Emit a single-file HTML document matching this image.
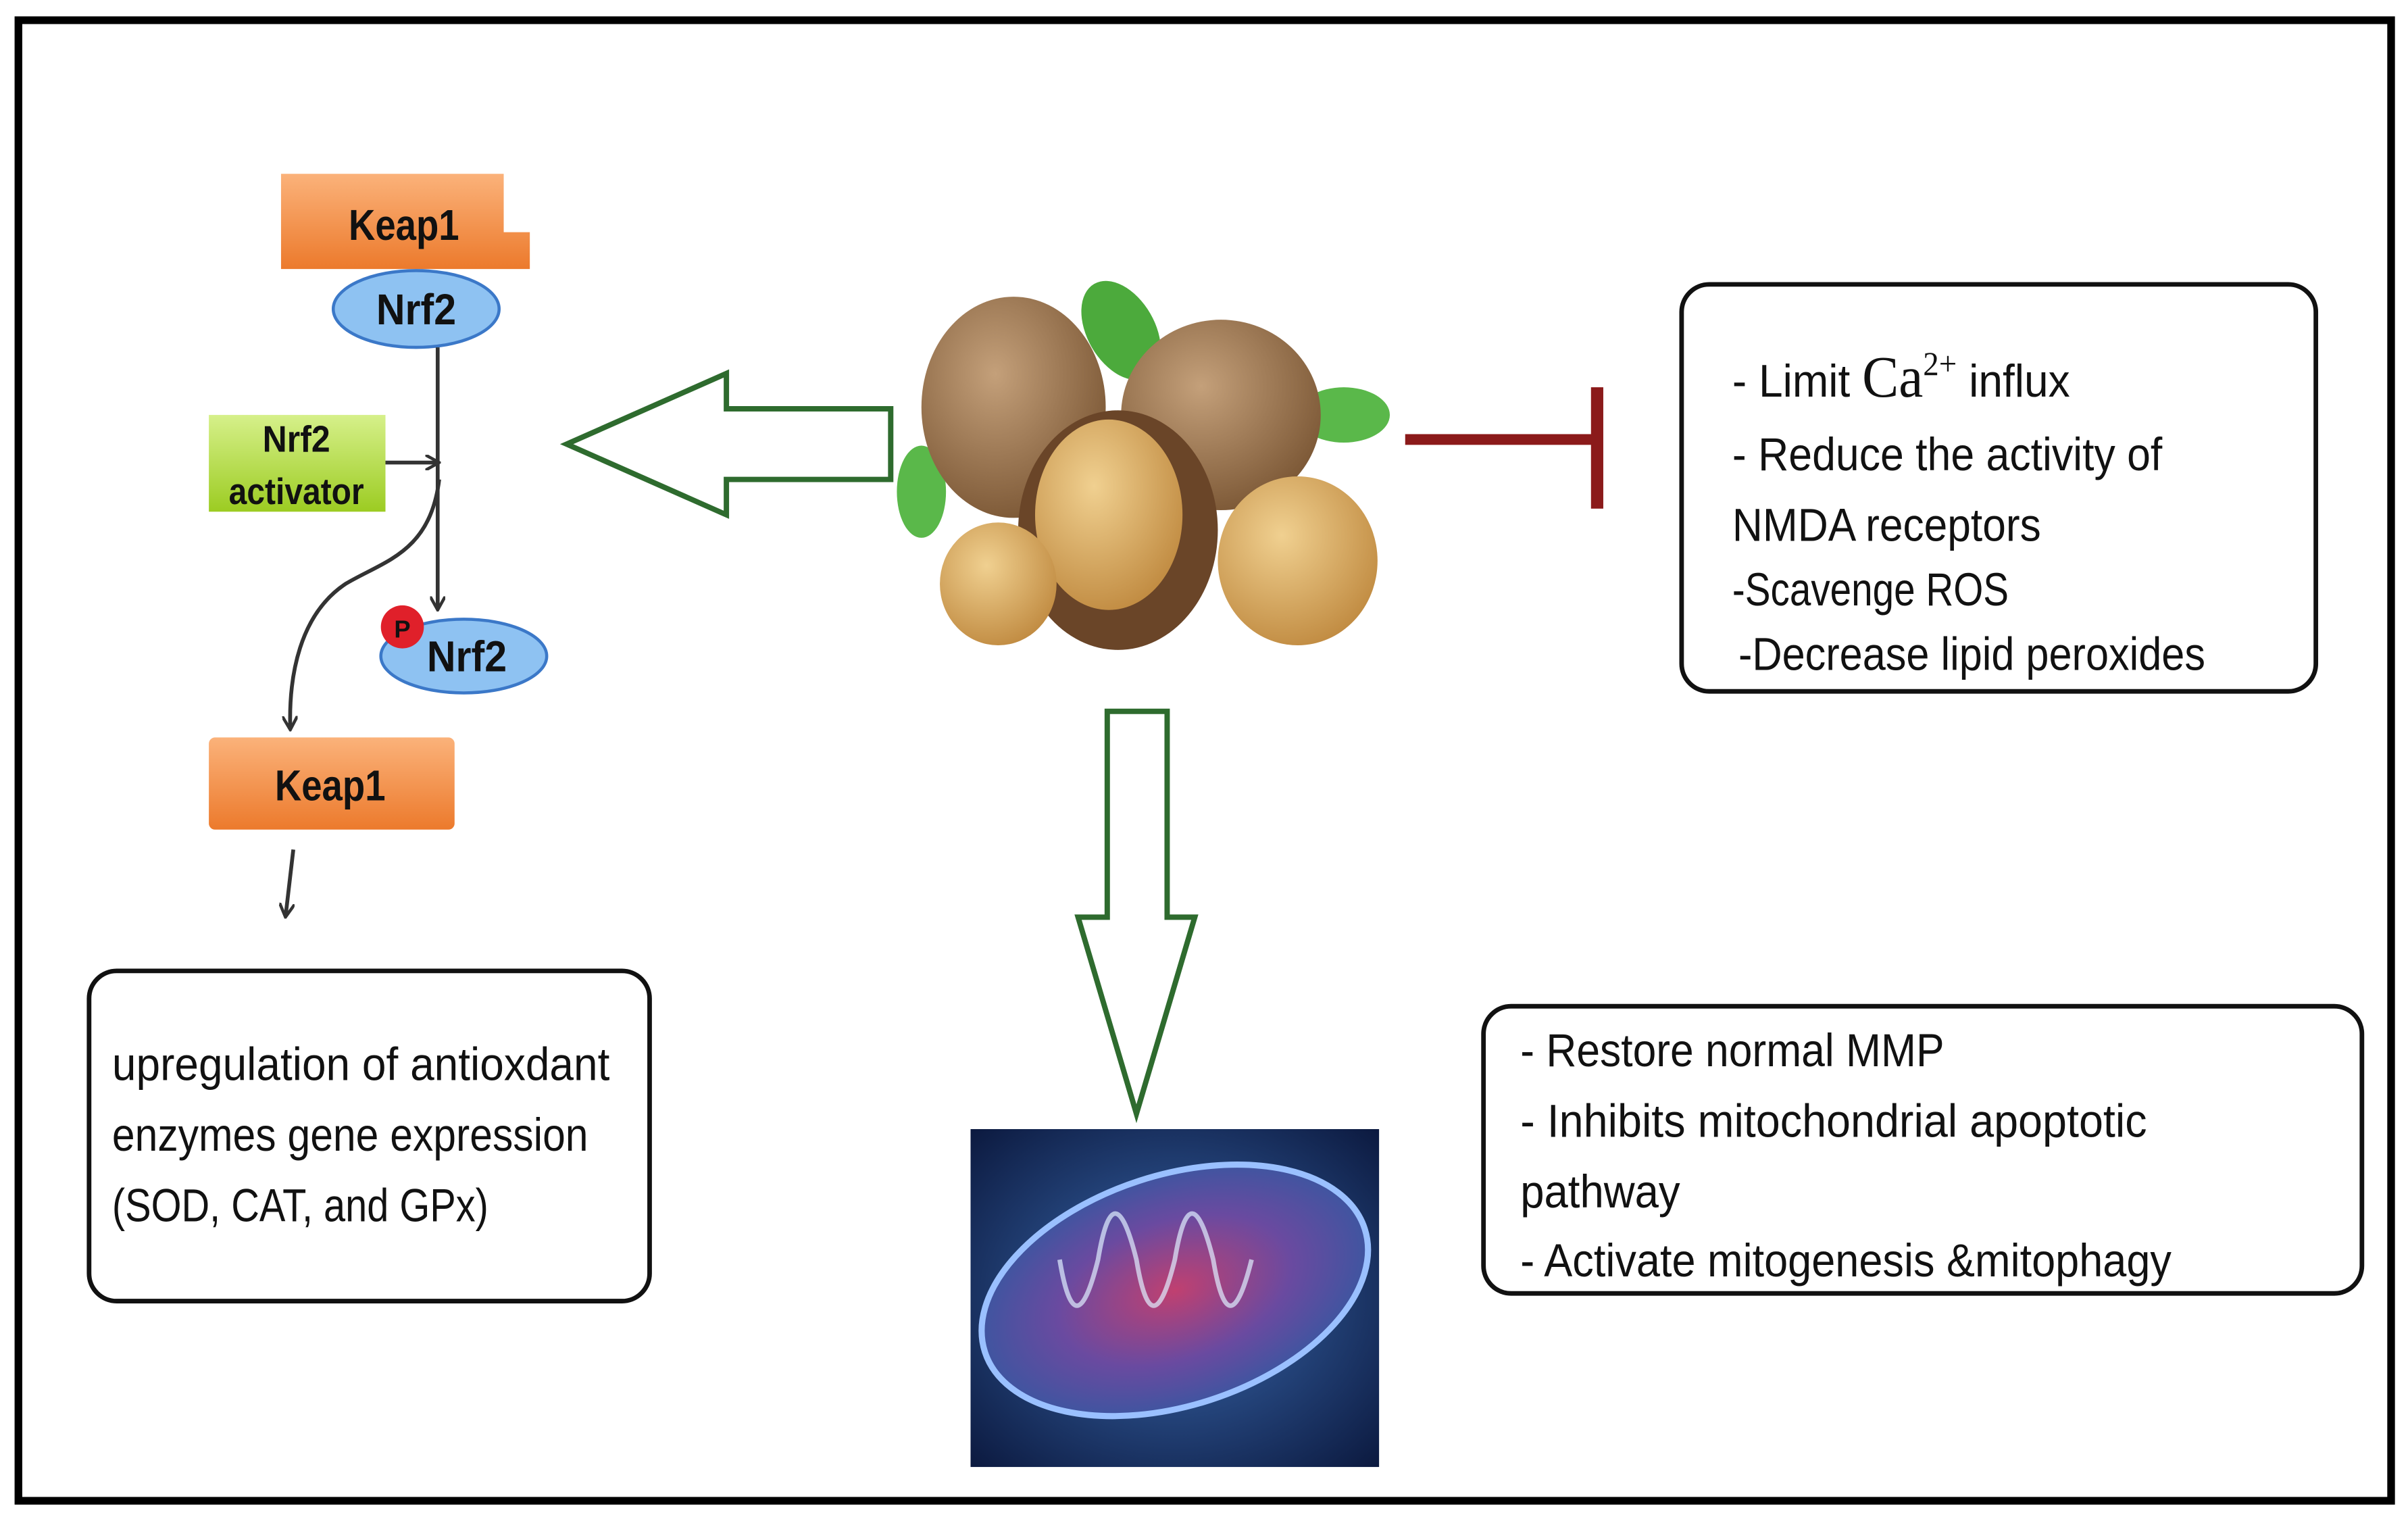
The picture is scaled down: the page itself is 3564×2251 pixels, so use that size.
<!DOCTYPE html>
<html><head><meta charset="utf-8"><style>
html,body{margin:0;padding:0;background:#fff;}
svg{display:block;}
text{font-family:"Liberation Sans Narrow","Liberation Sans",sans-serif;fill:#111;}
</style></head><body>
<svg width="3564" height="2251" viewBox="0 0 1568 990" xmlns="http://www.w3.org/2000/svg">
<defs>
<linearGradient id="og" x1="0" y1="0" x2="0" y2="1"><stop offset="0" stop-color="#fbb27a"/><stop offset="1" stop-color="#ec7a2c"/></linearGradient>
<linearGradient id="gg" x1="0" y1="0" x2="0" y2="1"><stop offset="0" stop-color="#d6f08a"/><stop offset="1" stop-color="#9ccc22"/></linearGradient>
<radialGradient id="mg" cx="0.5" cy="0.5" r="0.6"><stop offset="0" stop-color="#c04070"/><stop offset="0.5" stop-color="#6a4aa0"/><stop offset="1" stop-color="#2a5aa0"/></radialGradient>
<radialGradient id="bg" cx="0.5" cy="0.5" r="0.7"><stop offset="0" stop-color="#3a6ab0"/><stop offset="1" stop-color="#0c1a40"/></radialGradient>
<radialGradient id="wn" cx="0.4" cy="0.35" r="0.7"><stop offset="0" stop-color="#c4a07a"/><stop offset="1" stop-color="#7a5634"/></radialGradient>
<radialGradient id="kn" cx="0.4" cy="0.35" r="0.7"><stop offset="0" stop-color="#f0d090"/><stop offset="1" stop-color="#c08a40"/></radialGradient>
<marker id="ar" markerWidth="10" markerHeight="10" refX="8" refY="5" orient="auto" markerUnits="userSpaceOnUse"><path d="M0,0 L9,5 L0,10" fill="none" stroke="#333" stroke-width="2"/></marker>
</defs>
<rect x="12" y="13" width="1545" height="964" fill="#fff" stroke="#000" stroke-width="5"/>

<path d="M183,113 H328 V151 H345 V175 H183 Z" fill="url(#og)"/>
<text x="263" y="156" font-size="28" font-weight="bold" text-anchor="middle" fill="#222" textLength="72" lengthAdjust="spacingAndGlyphs">Keap1</text>
<ellipse cx="271" cy="201" rx="54" ry="25" fill="#8ec2f2" stroke="#3b78c8" stroke-width="2"/>
<text x="271" y="211" font-size="28" font-weight="bold" text-anchor="middle" textLength="52" lengthAdjust="spacingAndGlyphs">Nrf2</text>

<line x1="285" y1="226" x2="285" y2="396" stroke="#333" stroke-width="2.5" marker-end="url(#ar)"/>
<rect x="136" y="270" width="115" height="63" fill="url(#gg)"/>
<text x="193" y="294" font-size="24" font-weight="bold" text-anchor="middle" textLength="44" lengthAdjust="spacingAndGlyphs">Nrf2</text>
<text x="193" y="328" font-size="24" font-weight="bold" text-anchor="middle" textLength="88" lengthAdjust="spacingAndGlyphs">activator</text>
<line x1="251" y1="301" x2="285" y2="301" stroke="#333" stroke-width="2.5" marker-end="url(#ar)"/>
<path d="M286,312 C280,360 250,365 225,380 C195,400 188,440 189,474" fill="none" stroke="#333" stroke-width="2.5" marker-end="url(#ar)"/>

<ellipse cx="302" cy="427" rx="54" ry="24" fill="#8ec2f2" stroke="#3b78c8" stroke-width="2"/>
<text x="304" y="437" font-size="28" font-weight="bold" text-anchor="middle" textLength="52" lengthAdjust="spacingAndGlyphs">Nrf2</text>
<circle cx="262" cy="408" r="14" fill="#e0202a"/>
<text x="262" y="415" font-size="16" font-weight="bold" text-anchor="middle" fill="#222">P</text>

<rect x="136" y="480" width="160" height="60" rx="4" fill="url(#og)"/>
<text x="215" y="521" font-size="28" font-weight="bold" text-anchor="middle" fill="#222" textLength="72" lengthAdjust="spacingAndGlyphs">Keap1</text>
<line x1="191" y1="553" x2="186" y2="596" stroke="#333" stroke-width="2.5" marker-end="url(#ar)"/>

<rect x="58" y="632" width="365" height="215" rx="18" fill="#fff" stroke="#111" stroke-width="3"/>
<text font-size="30" lengthAdjust="spacingAndGlyphs">
<tspan x="73" y="703" textLength="324" lengthAdjust="spacingAndGlyphs">upregulation of antioxdant</tspan></text>
<text font-size="30"><tspan x="73" y="749" textLength="310" lengthAdjust="spacingAndGlyphs">enzymes gene expression</tspan></text>
<text font-size="30"><tspan x="73" y="795" textLength="245" lengthAdjust="spacingAndGlyphs">(SOD, CAT, and GPx)</tspan></text>

<path d="M369,289 L473,243 L473,266 L580,266 L580,312 L473,312 L473,335 Z" fill="#fff" stroke="#2e6b2e" stroke-width="3.5"/>

<ellipse cx="730" cy="215" rx="22" ry="35" fill="#4caa3c" transform="rotate(-30 730 215)"/>
<ellipse cx="875" cy="270" rx="30" ry="18" fill="#5ab84a"/>
<ellipse cx="600" cy="320" rx="16" ry="30" fill="#5ab84a"/>
<ellipse cx="660" cy="265" rx="60" ry="72" fill="url(#wn)"/>
<ellipse cx="795" cy="270" rx="65" ry="62" fill="url(#wn)"/>
<ellipse cx="728" cy="345" rx="65" ry="78" fill="#6a4528"/>
<ellipse cx="722" cy="335" rx="48" ry="62" fill="url(#kn)"/>
<ellipse cx="650" cy="380" rx="38" ry="40" fill="url(#kn)"/>
<ellipse cx="845" cy="365" rx="52" ry="55" fill="url(#kn)"/>

<line x1="915" y1="286" x2="1040" y2="286" stroke="#8b1a1a" stroke-width="7"/>
<line x1="1040" y1="252" x2="1040" y2="331" stroke="#8b1a1a" stroke-width="8"/>

<rect x="1095" y="185" width="413" height="265" rx="18" fill="#fff" stroke="#111" stroke-width="3"/>
<g transform="translate(1128 0) scale(0.94 1) translate(-1128 0)">
<text font-size="30"><tspan x="1128" y="258">- Limit </tspan><tspan font-family="Liberation Serif,serif" font-size="38">Ca</tspan><tspan font-family="Liberation Serif,serif" font-size="22" dy="-14">2+</tspan><tspan dy="14"> influx</tspan></text>
</g>
<text font-size="30"><tspan x="1128" y="306" textLength="280" lengthAdjust="spacingAndGlyphs">- Reduce the activity of</tspan></text>
<text font-size="30"><tspan x="1128" y="352" textLength="201" lengthAdjust="spacingAndGlyphs">NMDA receptors</tspan></text>
<text font-size="30"><tspan x="1128" y="394" textLength="180" lengthAdjust="spacingAndGlyphs">-Scavenge ROS</tspan></text>
<text font-size="30"><tspan x="1132" y="436" textLength="304" lengthAdjust="spacingAndGlyphs">-Decrease lipid peroxides</tspan></text>

<path d="M721,463 H760 V597 H778 L740,725 L702,597 H721 Z" fill="#fff" stroke="#2e6b2e" stroke-width="3.5"/>

<rect x="632" y="735" width="266" height="220" fill="url(#bg)"/>
<ellipse cx="765" cy="840" rx="130" ry="75" fill="url(#mg)" stroke="#9ac0ff" stroke-width="4" transform="rotate(-18 765 840)"/>
<g stroke="#e0f0ff" stroke-width="3" fill="none" opacity="0.7">
<path d="M690,820 q10,60 25,0 q10,-60 25,0 q10,60 25,0 q10,-60 25,0 q10,60 25,0"/>
</g>

<rect x="966" y="655" width="572" height="187" rx="18" fill="#fff" stroke="#111" stroke-width="3"/>
<text font-size="30"><tspan x="990" y="694" textLength="276" lengthAdjust="spacingAndGlyphs">- Restore normal MMP</tspan></text>
<text font-size="30"><tspan x="990" y="740" textLength="408" lengthAdjust="spacingAndGlyphs">- Inhibits mitochondrial apoptotic</tspan></text>
<text font-size="30"><tspan x="990" y="786" textLength="104" lengthAdjust="spacingAndGlyphs">pathway</tspan></text>
<text font-size="30"><tspan x="990" y="831" textLength="424" lengthAdjust="spacingAndGlyphs">- Activate mitogenesis &amp;mitophagy</tspan></text>
</svg>
</body></html>
